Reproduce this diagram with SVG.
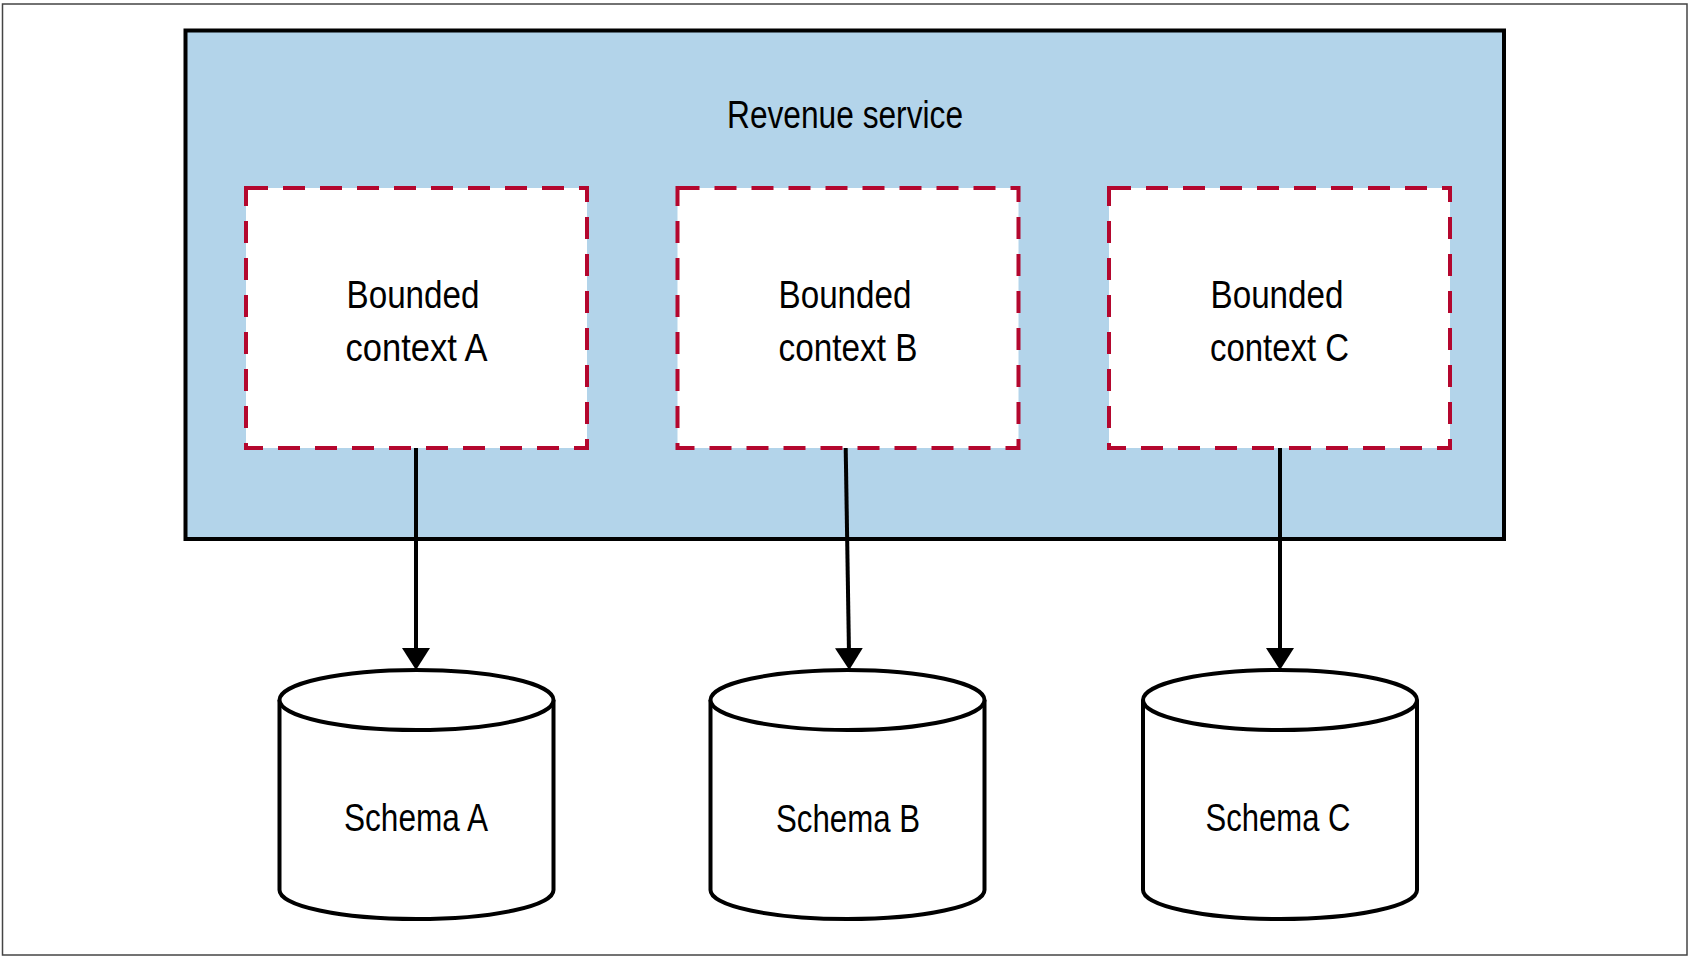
<svg xmlns="http://www.w3.org/2000/svg" width="1690" height="958" viewBox="0 0 1690 958">
  <style>
    .lbl { font-family: "Liberation Sans", Arial, sans-serif; font-size: 39px; fill: #000; text-anchor: middle; }
    .ctx { fill: #ffffff; stroke: #b4072e; stroke-width: 4; stroke-dasharray: 22 15; }
    .db { fill: #ffffff; stroke: #000; stroke-width: 4; }
    .conn { stroke: #000; stroke-width: 4; fill: none; }
  </style>
  <defs>
    <marker id="arrow" viewBox="0 0 22 28" refX="12" refY="14" markerWidth="22" markerHeight="28" markerUnits="userSpaceOnUse" orient="auto">
      <path d="M0,0 L22,14 L0,28 z" fill="#000"/>
    </marker>
  </defs>
  <rect x="0" y="0" width="1690" height="958" fill="#ffffff"/>
  <rect x="2.5" y="4" width="1684.5" height="951" fill="none" stroke="#444" stroke-width="1.5"/>

  <g id="revenue-service">
    <rect x="185.5" y="30.5" width="1318.5" height="508.5" fill="#b3d4ea" stroke="#000" stroke-width="4"/>
    <text class="lbl" x="845" y="128" textLength="236" lengthAdjust="spacingAndGlyphs">Revenue service</text>
  </g>

  <g id="context-a">
    <rect class="ctx" x="246" y="188" width="341" height="260"/>
    <text class="lbl" x="413" y="308" textLength="133" lengthAdjust="spacingAndGlyphs">Bounded</text>
    <text class="lbl" x="416.5" y="360.5" textLength="142" lengthAdjust="spacingAndGlyphs">context A</text>
  </g>
  <g id="context-b">
    <rect class="ctx" x="677.5" y="188" width="341" height="260"/>
    <text class="lbl" x="845" y="308" textLength="133" lengthAdjust="spacingAndGlyphs">Bounded</text>
    <text class="lbl" x="848" y="360.5" textLength="139" lengthAdjust="spacingAndGlyphs">context B</text>
  </g>
  <g id="context-c">
    <rect class="ctx" x="1109" y="188" width="341" height="260"/>
    <text class="lbl" x="1277" y="308" textLength="133" lengthAdjust="spacingAndGlyphs">Bounded</text>
    <text class="lbl" x="1279.5" y="360.5" textLength="139" lengthAdjust="spacingAndGlyphs">context C</text>
  </g>

  <g id="schema-a">
    <path class="db" d="M279.5,700 L279.5,890 A137,29 0 0 0 553.5,890 L553.5,700"/>
    <ellipse class="db" cx="416.5" cy="700" rx="137" ry="30"/>
    <text class="lbl" x="416" y="831" textLength="144" lengthAdjust="spacingAndGlyphs">Schema A</text>
  </g>
  <g id="schema-b">
    <path class="db" d="M710.5,700 L710.5,890 A137,29 0 0 0 984.5,890 L984.5,700"/>
    <ellipse class="db" cx="847.5" cy="700" rx="137" ry="30"/>
    <text class="lbl" x="848" y="831.5" textLength="144" lengthAdjust="spacingAndGlyphs">Schema B</text>
  </g>
  <g id="schema-c">
    <path class="db" d="M1143,700 L1143,890 A137,29 0 0 0 1417,890 L1417,700"/>
    <ellipse class="db" cx="1280" cy="700" rx="137" ry="30"/>
    <text class="lbl" x="1278" y="831" textLength="145" lengthAdjust="spacingAndGlyphs">Schema C</text>
  </g>

  <g id="connectors">
    <line class="conn" x1="416" y1="448" x2="416" y2="660" marker-end="url(#arrow)"/>
    <line class="conn" x1="845.7" y1="448" x2="849.1" y2="660" marker-end="url(#arrow)"/>
    <line class="conn" x1="1280" y1="448" x2="1280" y2="660" marker-end="url(#arrow)"/>
  </g>
</svg>
